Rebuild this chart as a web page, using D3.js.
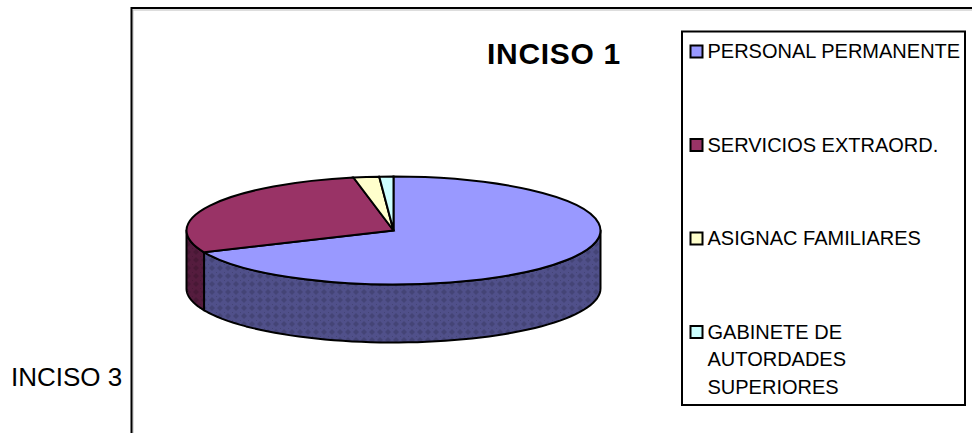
<!DOCTYPE html>
<html>
<head>
<meta charset="utf-8">
<script src="https://cdn.jsdelivr.net/npm/d3@7"></script>
<style>
  html, body { margin: 0; padding: 0; background: #fff; }
  text { font-family: "Liberation Sans", Arial, sans-serif; fill: #000; }
</style>
</head>
<body>
<svg id="chart" width="972" height="433" style="display:block"></svg>
<script>
const categories = ['PERSONAL PERMANENTE', 'SERVICIOS EXTRAORD.', 'ASIGNAC FAMILIARES', 'GABINETE DE'];
const legendExtra = ['AUTORDADES', 'SUPERIORES'];
const values = [68.4, 28.5, 2.0, 1.1];
const topColors = ['#9999ff', '#993366', '#ffffcc', '#ccffff'];
const sideColors = ['#50508a', '#551c3e', '#808066', '#668080'];

const cx = 393.5, cy = 230.5, rx = 207, ry = 54, depth = 58;

const svg = d3.select('#chart');

// dithered pattern for the pie wall
const defs = svg.append('defs');
sideColors.forEach((c, i) => {
  const p = defs.append('pattern')
    .attr('id', 'wall' + i)
    .attr('width', 8).attr('height', 8)
    .attr('patternUnits', 'userSpaceOnUse');
  p.append('rect').attr('width', 8).attr('height', 8).attr('fill', c);
  const dark = d3.color(c).darker(0.45);
  p.append('path').attr('d', 'M4 1L7 4L4 7L1 4Z').attr('fill', dark);
  p.append('path').attr('d', 'M0 0H1V1H0Z').attr('fill', dark);
});

// chart frame, runs off the window on the right and bottom
svg.append('path')
  .attr('d', d3.line()([[133, 433], [133, 10], [972, 10]]))
  .attr('fill', 'none').attr('stroke', '#bbb').attr('stroke-width', 1);
svg.append('path')
  .attr('d', d3.line()([[131.5, 433], [131.5, 8], [972, 8]]))
  .attr('fill', 'none').attr('stroke', '#000').attr('stroke-width', 2);

svg.append('text').attr('x', 11).attr('y', 385.5).attr('font-size', 26).text('INCISO 3');

svg.append('text').attr('x', 487).attr('y', 63.5)
  .attr('font-size', 30).attr('font-weight', 'bold').attr('letter-spacing', 0.7).text('INCISO 1');

const slices = d3.pie().sort(null)(values);
const pieG = svg.append('g');

const px = a => cx + rx * Math.sin(a);
const py = a => cy - ry * Math.cos(a);

// visible wall: the part of each slice on the front half of the ellipse
slices.forEach((s, i) => {
  const a0 = Math.max(s.startAngle, Math.PI / 2);
  const a1 = Math.min(s.endAngle, Math.PI * 1.5);
  if (a1 <= a0) return;
  const angles = d3.range(0, 61).map(k => a0 + (a1 - a0) * k / 60);
  const top = angles.map(a => [px(a), py(a)]);
  const bottom = angles.slice().reverse().map(a => [px(a), py(a) + depth]);
  pieG.append('path')
    .attr('d', d3.line()(top.concat(bottom)) + 'Z')
    .attr('fill', `url(#wall${i})`)
    .attr('stroke', '#000').attr('stroke-width', 2).attr('stroke-linejoin', 'round');
});

// top face, drawn as a circle squashed to an ellipse
const arc = d3.arc().innerRadius(0).outerRadius(rx);
pieG.append('g')
  .attr('transform', `translate(${cx},${cy}) scale(1,${ry / rx})`)
  .selectAll('path')
  .data(slices)
  .enter()
  .append('path')
  .attr('d', arc)
  .attr('fill', (d, i) => topColors[i])
  .attr('stroke', '#000')
  .attr('stroke-width', 2)
  .attr('vector-effect', 'non-scaling-stroke');

// legend
const legend = svg.append('g');
legend.append('rect')
  .attr('x', 682).attr('y', 31.5).attr('width', 283).attr('height', 373.5)
  .attr('fill', '#fff').attr('stroke', '#000').attr('stroke-width', 2);

const legendY = d3.scalePoint().domain(categories).range([51.5, 332]);
categories.forEach((c, i) => {
  legend.append('rect')
    .attr('x', 690.5).attr('y', legendY(c) - 6).attr('width', 12).attr('height', 12)
    .attr('fill', topColors[i]).attr('stroke', '#000').attr('stroke-width', 2);
  legend.append('text').attr('x', 707.5).attr('y', legendY(c) + 6.5)
    .attr('font-size', 20).text(c);
});
legendExtra.forEach((t, i) => {
  legend.append('text').attr('x', 707.5).attr('y', legendY(categories[3]) + 6.5 + 27.5 * (i + 1))
    .attr('font-size', 20).text(t);
});
</script>
</body>
</html>
